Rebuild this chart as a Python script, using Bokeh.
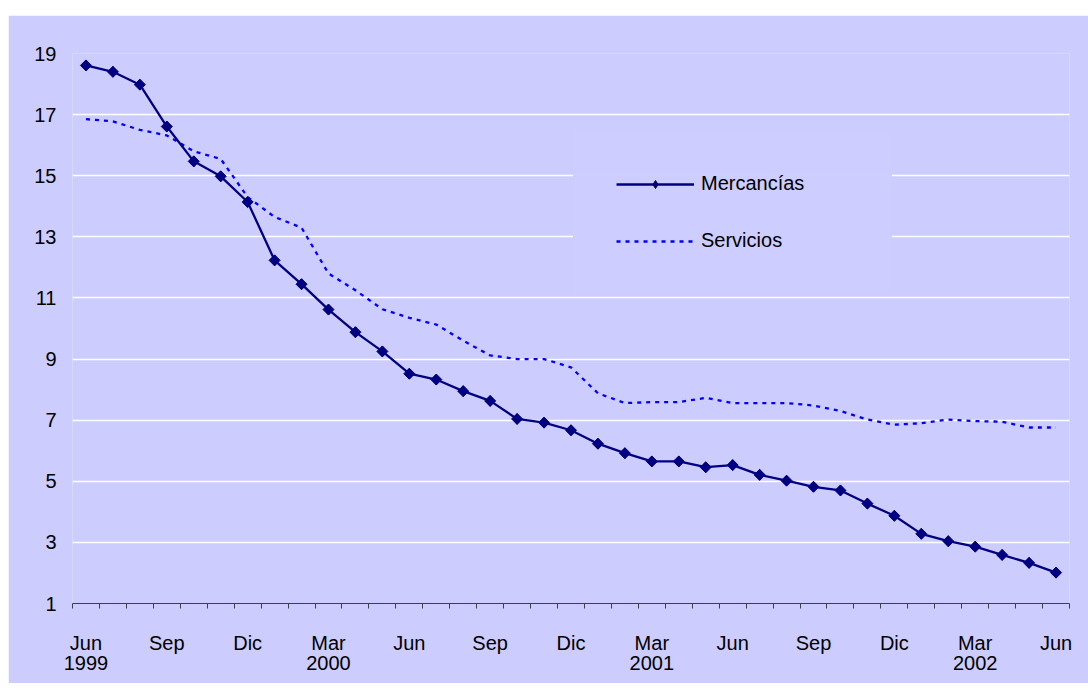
import numpy as np
from bokeh.plotting import figure
from bokeh.models import (FixedTicker, Legend, LegendItem, Spacer,
                          ColumnDataSource, Range1d)
from bokeh.layouts import column, row
from bokeh.embed import file_html
from bokeh.resources import INLINE

# ---- data -------------------------------------------------------------
meses = (["Jun", "Jul", "Ago", "Sep", "Oct", "Nov", "Dic"] +
         ["Ene", "Feb", "Mar", "Abr", "May", "Jun", "Jul", "Ago", "Sep", "Oct", "Nov", "Dic"] +
         ["Ene", "Feb", "Mar", "Abr", "May", "Jun", "Jul", "Ago", "Sep", "Oct", "Nov", "Dic"] +
         ["Ene", "Feb", "Mar", "Abr", "May", "Jun"])
anios = [1999] * 7 + [2000] * 12 + [2001] * 12 + [2002] * 6

mercancias = [18.61, 18.40, 17.98, 16.61, 15.47, 14.98, 14.14, 12.23, 11.45, 10.62,
              9.88, 9.25, 8.52, 8.33, 7.95, 7.63, 7.04, 6.92, 6.67, 6.23,
              5.92, 5.65, 5.65, 5.46, 5.53, 5.21, 5.02, 4.82, 4.70, 4.27,
              3.87, 3.28, 3.04, 2.86, 2.59, 2.33, 2.01]
servicios = [16.85, 16.78, 16.50, 16.32, 15.80, 15.55, 14.30, 13.65, 13.30, 11.80,
             11.25, 10.63, 10.35, 10.13, 9.60, 9.12, 9.00, 9.00, 8.73, 7.88,
             7.56, 7.59, 7.59, 7.73, 7.56, 7.56, 7.56, 7.48, 7.30, 7.02,
             6.85, 6.90, 7.02, 6.97, 6.95, 6.76, 6.76]

meses_etiqueta = ["Jun", "Sep", "Dic", "Mar"]
y_ticks = [1, 3, 5, 7, 9, 11, 13, 15, 17, 19]

# ---- figure -----------------------------------------------------------
BG = "#CCCCFF"
FONT = "Liberation Sans"
n = len(meses)
x = list(range(n))
src = ColumnDataSource(dict(x=x, merc=mercancias, serv=servicios))

p = figure(width=1080, height=668, output_backend="svg", toolbar_location=None,
           x_range=Range1d(-0.5, n - 0.5), y_range=Range1d(1, 19),
           min_border_left=64, min_border_right=19, min_border_top=38,
           min_border_bottom=80)
p.background_fill_color = BG
p.border_fill_color = BG
p.outline_line_color = None

r_serv = p.line("x", "serv", source=src, line_color="#0000FF", line_width=2.3,
                line_dash="4 5")
r_merc = p.line("x", "merc", source=src, line_color="#000080", line_width=2.3)
# diamond drawn under the (rotated-square) markers; it supplies the legend glyph
r_dia = p.scatter("x", "merc", source=src, marker="diamond", size=10.5,
                  fill_color="#000080", line_color="#000080")
p.scatter("x", "merc", source=src, marker="square", angle=np.pi / 4,
          size=7.8, fill_color="#000080", line_color="#000080")

# x axis
pos = [i for i in range(n) if meses[i] in meses_etiqueta]
overrides = {}
for i in pos:
    lab = meses[i]
    if i == 0 or meses[i] == "Mar":
        lab = lab + "\n" + str(anios[i])
    overrides[i] = lab
p.xaxis.ticker = FixedTicker(ticks=pos, minor_ticks=[k - 0.5 for k in range(n + 1)])
p.xaxis.major_label_overrides = overrides
p.xaxis.major_tick_out = 0
p.xaxis.major_tick_in = 0
p.xaxis.minor_tick_out = 5
p.xaxis.minor_tick_in = 0
p.xaxis.minor_tick_line_color = "#404040"
p.xaxis.axis_line_color = "#404040"
p.xaxis.major_label_text_font = FONT
p.xaxis.major_label_text_font_size = "20px"
p.xaxis.major_label_text_color = "black"
p.xaxis.major_label_text_line_height = 0.92
p.xaxis.major_label_standoff = 23
p.xgrid.visible = False

# y axis
p.yaxis.ticker = FixedTicker(ticks=y_ticks)
p.yaxis.axis_line_color = None
p.yaxis.major_tick_line_color = None
p.yaxis.minor_tick_line_color = None
p.yaxis.major_label_text_font = FONT
p.yaxis.major_label_text_font_size = "20px"
p.yaxis.major_label_text_color = "black"
p.yaxis.major_label_standoff = 10
p.ygrid.ticker = FixedTicker(ticks=y_ticks[1:])
p.ygrid.grid_line_color = "white"
p.ygrid.grid_line_width = 1.5

legend = Legend(items=[LegendItem(label="Mercancías", renderers=[r_merc, r_dia]),
                       LegendItem(label="Servicios", renderers=[r_serv])],
                location=(501, 308), background_fill_color=BG,
                border_line_color=BG, padding=42, spacing=34,
                glyph_width=78, glyph_height=20, label_standoff=7,
                label_width=148,
                label_text_font=FONT, label_text_font_size="20px",
                label_text_color="black")
p.add_layout(legend)

layout = row(Spacer(width=8, height=10), column(Spacer(height=15, width=10), p))
open("out.html", "w").write(file_html(layout, INLINE))
